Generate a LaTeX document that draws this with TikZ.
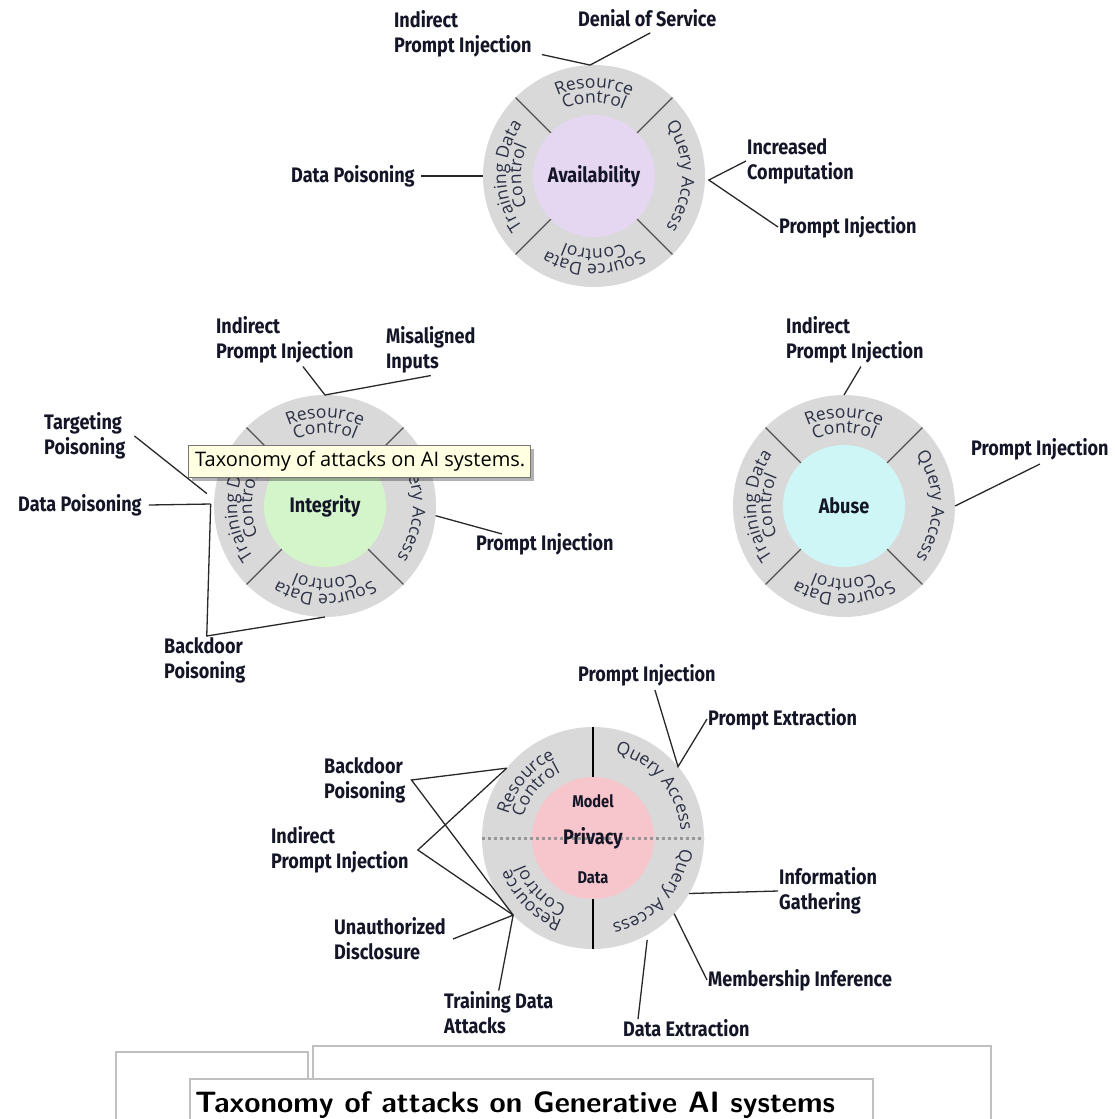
\documentclass[tikz,border=0pt]{standalone}
\usepackage{fontspec}
\usetikzlibrary{decorations.text,calc,shadows}

\newfontfamily\lblfamily[FakeStretch=0.86]{Fira Sans}
\newfontfamily\ringfamily{Open Sans}
\newfontfamily\tipfamily{Open Sans}

\definecolor{ink}{RGB}{20,22,40}
\definecolor{ringtxt}{RGB}{44,48,70}
\definecolor{ringgray}{RGB}{217,217,217}
\definecolor{divgray}{RGB}{80,80,80}
\definecolor{connink}{RGB}{40,40,40}
\definecolor{availfill}{RGB}{229,214,241}
\definecolor{integfill}{RGB}{211,245,201}
\definecolor{abusefill}{RGB}{207,246,247}
\definecolor{privfill}{RGB}{247,198,204}
\definecolor{tipfill}{RGB}{255,255,225}
\definecolor{tipedge}{RGB}{118,118,118}
\definecolor{boxedge}{RGB}{192,192,192}
\definecolor{dotgray}{RGB}{150,150,150}

\newcommand\lblfont{\lblfamily\bfseries\fontsize{21}{25}\selectfont}
\newcommand\ringfont{\ringfamily\fontsize{17.5}{20}\selectfont}

\tikzset{
  lbl/.style={font=\lblfont, text=ink, inner sep=1pt, align=left, anchor=west},
  ringdisk/.style={circle, minimum size=222pt, inner sep=0pt, outer sep=0pt, fill=ringgray, draw=none},
  core/.style={circle, minimum size=122pt, inner sep=0pt, outer sep=0pt, draw=none},
  divider/.style={draw=divgray, line width=1.2pt},
  conn/.style={draw=connink, line width=1.3pt},
  title/.style={font=\lblfamily\bfseries\fontsize{21}{25}\selectfont, text=ink, inner sep=0pt},
  boxline/.style={draw=boxedge, line width=1.3pt},
}

% one line of ring text, set along a clockwise arc (tops of letters outward)
\newcommand\ringtext[4]{%
  \path[decorate, decoration={text along path, text align=center,
        text color=ringtxt, text={|\ringfont|#4}}]
    (#2:#1) arc[start angle=#2, end angle=#3, radius=#1];}

% a four-sector attack ring: name, x, y, core colour, title
\newcommand\attackring[5]{%
  \begin{scope}[shift={(#2,#3)}, y=1pt]
    \node[ringdisk] (#1-ring) at (0,0) {};
    \node[core, fill=#4] (#1-core) at (0,0) {};
    \foreach \a in {45,135,225,315} \draw[divider] (\a:61) -- (\a:111);
    \ringtext{88}{135}{45}{Resource}
    \ringtext{73}{135}{45}{Control}
    \ringtext{88}{45}{-45}{Query Access}
    \ringtext{88}{-45}{-135}{Source Data}
    \ringtext{73}{-45}{-135}{Control}
    \ringtext{88}{225}{135}{Training Data}
    \ringtext{73}{225}{135}{Control}
    \node[title] (#1-title) at (0,0) {#5};
  \end{scope}}

\begin{document}
\begin{tikzpicture}[x=1pt, y=-1pt]
  \path[use as bounding box] (0,0) rectangle (1115,1119);
  \clip (0,0) rectangle (1115,1119);

  % ---------------- Availability ----------------
  \attackring{av}{594}{176}{availfill}{Availability}
  \node[lbl] (ipi1) at (393,34) {Indirect\\Prompt Injection};
  \node[lbl] (dos) at (577,18) {Denial of Service};
  \node[lbl] (dp1) at (290,176) {Data Poisoning};
  \node[lbl] (ic) at (746,161) {Increased\\Computation};
  \node[lbl] (pi1) at (778,227) {Prompt Injection};
  \coordinate (avq) at ($(av-ring.center)!1.035!(av-ring.-2)$);
  \draw[conn] ($(ipi1.south east)+(9,-4)$) -- (av-ring.92);
  \draw[conn] ($(dos.south)+(3,5)$) -- (av-ring.92);
  \draw[conn] ($(dp1.east)+(5,0)$) -- (av-ring.west);
  \draw[conn] (ic.west) -- (avq) -- (pi1.west);

  % ---------------- Integrity ----------------
  \attackring{in}{325}{506}{integfill}{Integrity}
  \node[lbl] (ipi2) at (215,340) {Indirect\\Prompt Injection};
  \node[lbl] (mis) at (385,350) {Misaligned\\Inputs};
  \node[lbl] (tp) at (43,436) {Targeting\\Poisoning};
  \node[lbl] (dp2) at (17,505) {Data Poisoning};
  \node[lbl] (pi2) at (475,544) {Prompt Injection};
  \node[lbl] (bp1) at (163,660) {Backdoor\\Poisoning};
  \coordinate (in-tp) at ($(in-ring.center)!1.07!(in-ring.174)$);
  \coordinate (in-dp) at ($(in-ring.center)!1.03!(in-ring.179)$);
  \draw[conn] ($(ipi2.south)+(18,2)$) -- (in-ring.north) -- ($(mis.south)+(0,1)$);
  \draw[conn] ($(tp.east)+(8,0)$) -- (in-tp);
  \draw[conn] ($(dp2.east)+(6,0)$) -- (in-dp);
  \draw[conn] (in-dp) -- ($(bp1.north)+(2,0)$) -- (in-ring.south);
  \draw[conn] (in-ring.-5) -- ($(pi2.north west)+(27,2)$);

  % ---------------- Abuse ----------------
  \attackring{ab}{844}{506}{abusefill}{Abuse}
  \node[lbl] (ipi3) at (785,340) {Indirect\\Prompt Injection};
  \node[lbl] (pi3) at (970,449) {Prompt Injection};
  \draw[conn] ($(ipi3.south)+(6,2)$) -- (ab-ring.north);
  \draw[conn] (ab-ring.east) -- ($(pi3.south)+(0,3)$);

  % ---------------- Privacy ----------------
  \begin{scope}[shift={(593,838)}, y=1pt]
    \node[ringdisk] (pr-ring) at (0,0) {};
    \node[core, fill=privfill] (pr-core) at (0,0) {};
    \draw[draw=dotgray, line width=3pt, dash pattern=on 3pt off 3pt]
      (pr-ring.west) -- (pr-ring.east);
    \draw[draw=black, line width=1.3pt] (pr-ring.north) -- (pr-core.north);
    \draw[draw=black, line width=1.3pt] (pr-core.south) -- (pr-ring.south);
    \ringtext{88}{190}{90}{Resource}
    \ringtext{73}{190}{90}{Control}
    \ringtext{88}{85}{-5}{Query Access}
    \ringtext{88}{3}{-87}{Query Access}
    \ringtext{88}{270}{180}{Resource}
    \ringtext{73}{270}{180}{Control}
    \node[title, font=\lblfamily\bfseries\fontsize{17}{20}\selectfont] (pr-model) at (0,37) {Model};
    \node[title] (pr-title) at (0,0) {Privacy};
    \node[title, font=\lblfamily\bfseries\fontsize{17}{20}\selectfont] (pr-data) at (0,-40) {Data};
  \end{scope}
  \node[lbl] (pi4) at (577,675) {Prompt Injection};
  \node[lbl] (pe) at (707,719) {Prompt Extraction};
  \node[lbl] (bp2) at (323,780) {Backdoor\\Poisoning};
  \node[lbl] (ipi4) at (270,850) {Indirect\\Prompt Injection};
  \node[lbl] (ig) at (778,891) {Information\\Gathering};
  \node[lbl] (ud) at (333,939) {Unauthorized\\Disclosure};
  \node[lbl] (mi) at (707,980) {Membership Inference};
  \node[lbl] (tda) at (443,1013) {Training Data\\Attacks};
  \node[lbl] (de) at (622,1028) {Data Extraction};
  \coordinate (pr-a) at (pr-ring.141);
  \coordinate (pr-b) at (pr-ring.224);
  \coordinate (pr-q) at (pr-ring.40);
  \draw[conn] (pr-a) -- ($(bp2.east)+(5,0)$) -- (pr-b);
  \draw[conn] (pr-a) -- ($(ipi4.east)+(8,0)$) -- (pr-b);
  \draw[conn] ($(ud.east)+(6,0)$) -- (pr-b);
  \draw[conn] (tda.north) -- (pr-b);
  \draw[conn] ($(pi4.south)+(8,3)$) -- (pr-q) -- (pe.west);
  \draw[conn] (ig.west) -- (pr-ring.-30);
  \draw[conn] (mi.west) -- (pr-ring.-43);
  \draw[conn] ($(de.north west)+(16,1)$) -- ($(pr-ring.center)!1.04!(pr-ring.-62)$);

  % ---------------- tooltip ----------------
  \node[anchor=north west, minimum width=342pt, minimum height=32pt, inner sep=0pt,
        fill=tipfill, draw=tipedge, line width=1pt,
        drop shadow={shadow xshift=3pt, shadow yshift=-3pt, opacity=0.3, fill=black}]
        (tip) at (188,445) {};
  \node[anchor=west, inner sep=0pt, font=\tipfamily\fontsize{20}{24}\selectfont, text=black]
        (tiptext) at ($(tip.west)+(7,0)$) {Taxonomy of attacks on AI systems.};

  % ---------------- caption frames ----------------
  \draw[boxline] (116,1125) |- (308,1052) -- (308,1079);
  \draw[boxline] (313,1079) |- (991,1046) -- (991,1125);
  \draw[boxline, fill=white] (190,1125) |- (873,1079) -- (873,1125);
  \node[anchor=base west, inner sep=0pt, text=black,
        font=\sffamily\bfseries\fontsize{29.5}{32}\selectfont] (caption) at (195,1112)
        {Taxonomy of attacks on Generative AI systems};
\end{tikzpicture}
\end{document}
